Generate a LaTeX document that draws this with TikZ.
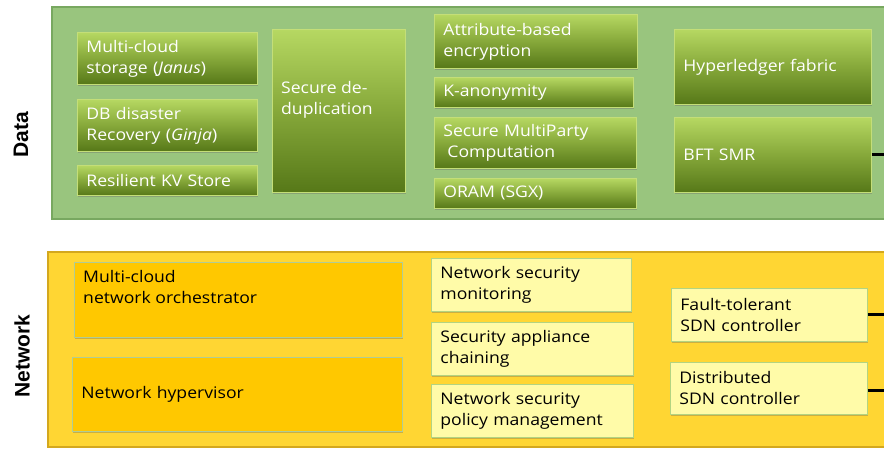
\documentclass[tikz,border=0pt]{standalone}
\usepackage{fontspec}
\setmainfont[FakeStretch=1.1]{Open Sans}
\newfontfamily\labelfont{Liberation Sans}
\usetikzlibrary{shadows}
\definecolor{databack}{RGB}{153,197,126}
\definecolor{dataline}{RGB}{120,168,96}
\definecolor{gtop}{RGB}{182,216,98}
\definecolor{gbot}{RGB}{86,120,24}
\definecolor{gedge}{RGB}{196,222,120}
\definecolor{netback}{RGB}{255,214,51}
\definecolor{netline}{RGB}{212,168,30}
\definecolor{ofill}{RGB}{255,200,0}
\definecolor{oedge}{RGB}{176,204,150}
\definecolor{yfill}{RGB}{255,251,168}
\definecolor{yedge}{RGB}{178,212,130}
\tikzset{
  panel/.style={line width=1.2pt},
  boxfont/.style={font=\fontsize{16}{21}\selectfont},
  shade box/.style={drop shadow={shadow xshift=1pt,shadow yshift=-2pt,opacity=0.35,fill=black!60}},
  gbox/.style={shade box,draw=gedge,line width=0.8pt,top color=gtop,bottom color=gbot,
    middle color={rgb,255:red,134;green,168;blue,58},text=white,anchor=north west,
    align=left,inner xsep=9pt,inner ysep=0pt,boxfont},
  obox/.style={shade box,draw=oedge,line width=0.8pt,fill=ofill,text=black,anchor=north west,
    align=left,inner xsep=9pt,inner ysep=0pt,boxfont},
  ybox/.style={shade box,draw=yedge,line width=0.8pt,fill=yfill,text=black,anchor=north west,
    align=left,inner xsep=9pt,inner ysep=0pt,boxfont},
  intext/.style={anchor=north west,align=left,inner sep=0pt,boxfont},
  layer/.style={rotate=90,font=\labelfont\bfseries\fontsize{21}{24}\selectfont,text=black},
  link/.style={line width=3pt,black}
}
\begin{document}
\begin{tikzpicture}[x=1pt,y=-1pt]
\useasboundingbox (0,0) rectangle (884,448);
\clip (0,0) rectangle (884,448);

% layer panels
\draw[panel,draw=dataline,fill=databack] (52,7) rectangle (900,219);
\draw[panel,draw=netline,fill=netback] (48,252) rectangle (900,447);
\coordinate (edgeR) at (884,0);

\node[layer] (dlabel) at (21,135) {Data};
\node[layer] (nlabel) at (22,356) {Network};

% data layer
\node[gbox,minimum width=180,minimum height=52,text width=162] (mcs) at (77,32)
  {Multi-cloud\\storage (\emph{Janus})};
\node[gbox,minimum width=180,minimum height=52,text width=162] (dbr) at (77,99)
  {DB disaster\\Recovery (\emph{Ginja})};
\node[gbox,minimum width=180,minimum height=30,text width=162] (kvs) at (77,165)
  {Resilient KV Store};
\node[gbox,minimum width=133,minimum height=163] (dedup) at (272,29) {};
\node[intext,text=white] (deduptxt) at ([xshift=9,yshift=-52]dedup.north west)
  {Secure de-\\duplication};
\node[gbox,minimum width=203,minimum height=54,text width=185] (abe) at (434,14)
  {Attribute-based\\encryption};
\node[gbox,minimum width=199,minimum height=30,text width=181] (kan) at (434,77)
  {K-anonymity};
\node[gbox,minimum width=202,minimum height=51,text width=184] (smpc) at (434,117)
  {Secure MultiParty\\\hspace*{4pt}Computation};
\node[gbox,minimum width=202,minimum height=30,text width=184] (oram) at (434,178)
  {ORAM (SGX)};
\node[gbox,minimum width=197,minimum height=75,text width=179] (hlf) at (674,29)
  {Hyperledger fabric};
\node[gbox,minimum width=197,minimum height=75,text width=179] (bft) at (674,117)
  {BFT SMR};

% network layer
\node[obox,minimum width=328,minimum height=75] (orch) at (74,262) {};
\node[intext] (orchtxt) at ([xshift=9,yshift=-8]orch.north west)
  {Multi-cloud\\network orchestrator};
\node[obox,minimum width=330,minimum height=74,text width=312] (hyp) at (72,357)
  {Network hypervisor};
\node[ybox,minimum width=200,minimum height=53,text width=182] (nsm) at (431,258)
  {Network security\\monitoring};
\node[ybox,minimum width=202,minimum height=53,text width=184] (sac) at (431,322)
  {Security appliance\\chaining};
\node[ybox,minimum width=202,minimum height=53,text width=184] (nspm) at (431,384)
  {Network security\\policy management};
\node[ybox,minimum width=196,minimum height=53,text width=178] (ftc) at (671,288)
  {Fault-tolerant\\SDN controller};
\node[ybox,minimum width=197,minimum height=52,text width=179] (dsc) at (670,362)
  {Distributed\\SDN controller};

% links leaving the right edge
\draw[link] (bft.east) -- (bft.east -| edgeR);
\draw[link] (ftc.east) -- (ftc.east -| edgeR);
\draw[link] ([yshift=-2]dsc.east) -- ([yshift=-2]dsc.east -| edgeR);
\end{tikzpicture}
\end{document}
